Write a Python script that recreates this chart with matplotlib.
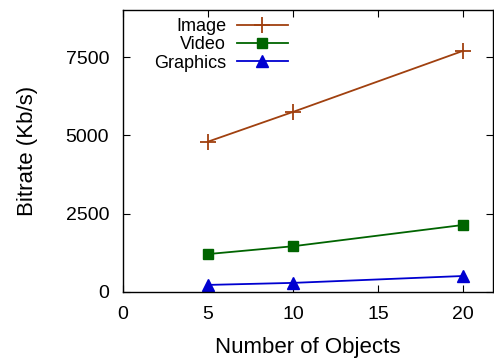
import matplotlib
matplotlib.use("Agg")
import matplotlib.pyplot as plt

plt.rcParams["font.family"] = ["Liberation Sans", "DejaVu Sans"]

objects = [5, 10, 20]
image = [4800, 5750, 7700]
video = [1210, 1460, 2140]
graphics = [225, 290, 510]

fig = plt.figure(figsize=(4.94, 3.6), dpi=100)
ax = fig.add_axes([0.249, 0.189, 0.749, 0.783])

ax.plot(objects, image, color="#a0400f", marker="+", markersize=12, mew=1.3, lw=1.3, label="Image")
ax.plot(objects, video, color="#006400", marker="s", markersize=7, lw=1.3, label="Video")
ax.plot(objects, graphics, color="#0000d0", marker="^", markersize=8, lw=1.3, label="Graphics")

ax.set_xlim(0, 21.75)
ax.set_ylim(0, 9000)
ax.set_xticks([0, 5, 10, 15, 20])
ax.set_yticks([0, 2500, 5000, 7500])
ax.tick_params(direction="in", top=True, right=True, labelsize=14, length=5, pad=10)
for s in ax.spines.values():
    s.set_linewidth(1.0)

ax.set_xlabel("Number of Objects", fontsize=16, labelpad=10)
ax.set_ylabel("Bitrate (Kb/s)", fontsize=16, labelpad=20)

ax.legend(loc="upper left", bbox_to_anchor=(0.04, 1.03), frameon=False, markerfirst=False,
          fontsize=13, handlelength=2.8, labelspacing=0.08, handletextpad=0.6)

fig.savefig("out.png", dpi=100)
